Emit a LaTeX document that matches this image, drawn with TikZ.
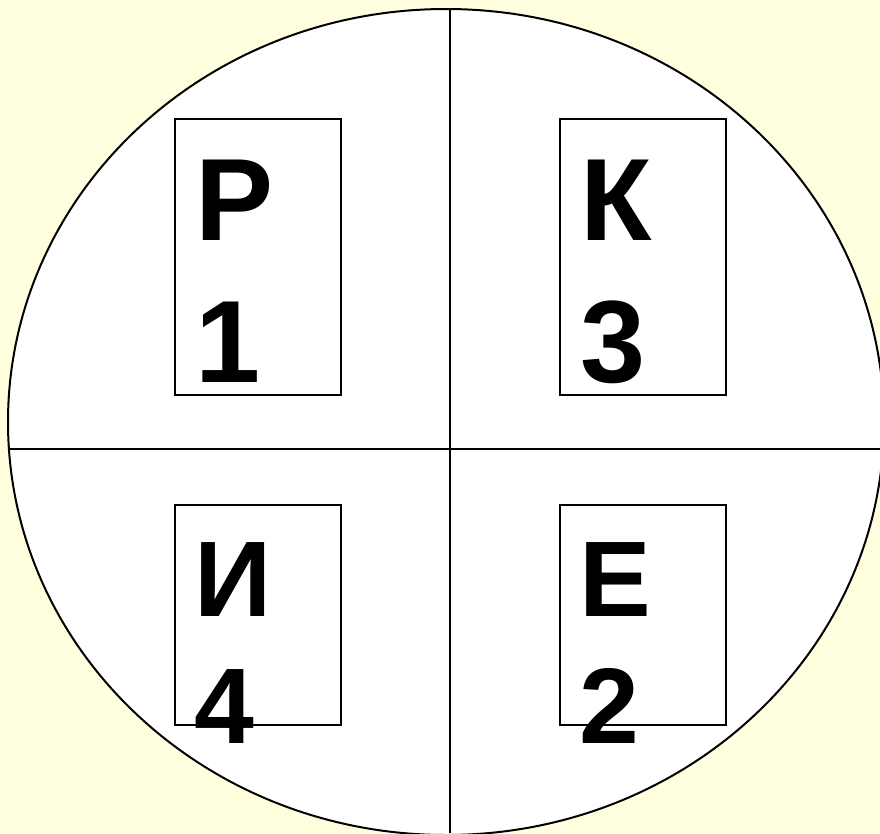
\documentclass[tikz,border=0pt]{standalone}
\usepackage{fontspec}
\setmainfont{Liberation Sans}
\usetikzlibrary{calc, positioning}
\definecolor{paperyellow}{RGB}{255,255,224}
\tikzset{
  crossline/.style={line width=2pt, black},
  cardbox/.style={draw=black, line width=1.5pt, fill=white,
                  inner sep=0pt, outer sep=0pt, minimum width=166pt},
  bigglyph/.style={anchor=base west, inner sep=0pt,
                   font=\fontsize{117}{140}\selectfont\bfseries},
  smallglyph/.style={anchor=base west, inner sep=0pt,
                     font=\fontsize{107.5}{127}\selectfont\bfseries},
}
\begin{document}
\begin{tikzpicture}[x=1pt, y=-1pt]

  % ---- Background and disc ----
  \fill[paperyellow] (0,0) rectangle (880,833);
  \useasboundingbox (0,0) rectangle (880,833);
  \begin{scope}
    \clip (0,0) rectangle (880,833);
    \draw[fill=white, line width=2pt] (446,422) ellipse (438pt and 413pt);
  \end{scope}

  % ---- Cross ----
  \coordinate (topend)    at (450,10);
  \coordinate (bottomend) at (450,833);
  \coordinate (leftend)   at (9,449);
  \coordinate (rightend)  at (880,449);
  \draw[crossline] (topend) -- (bottomend);
  \draw[crossline] (leftend) -- (rightend);

  % ---- Upper cards ----
  \node[cardbox, minimum height=276pt, anchor=north west]
    (boxR) at (175,119) {};
  \node[cardbox, minimum height=276pt, anchor=north west]
    (boxK) at (560,119) {};
  \node[bigglyph] (letR) at ($(boxR.north west)+(20,121)$) {Р};
  \node[bigglyph] (numR) at ($(boxR.north west)+(20,263)$) {1};
  \node[bigglyph] (letK) at ($(boxK.north west)+(20,121)$) {К};
  \node[bigglyph] (numK) at ($(boxK.north west)+(20,263)$) {3};

  % ---- Lower cards ----
  \node[cardbox, minimum height=220pt, anchor=north west]
    (boxI) at (175,505) {};
  \node[cardbox, minimum height=220pt, anchor=north west]
    (boxE) at (560,505) {};
  \node[smallglyph] (letI) at ($(boxI.north west)+(19,111)$) {И};
  \node[smallglyph] (numI) at ($(boxI.north west)+(19,238)$) {4};
  \node[smallglyph] (letE) at ($(boxE.north west)+(19,111)$) {Е};
  \node[smallglyph] (numE) at ($(boxE.north west)+(19,238)$) {2};

\end{tikzpicture}
\end{document}
